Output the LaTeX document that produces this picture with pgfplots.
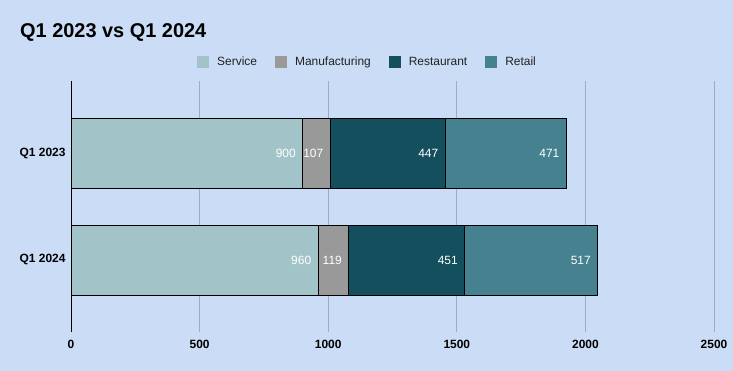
\documentclass[border=0pt]{standalone}
\usepackage{pgfplots}
\pgfplotsset{compat=1.18}
\usepackage{fontspec}
\setmainfont{Liberation Sans}
\definecolor{bgc}{RGB}{203,220,246}
\definecolor{cserv}{RGB}{162,196,201}
\definecolor{cmanu}{RGB}{153,153,153}
\definecolor{crest}{RGB}{19,79,92}
\definecolor{cret}{RGB}{69,129,142}
\definecolor{gridc}{RGB}{160,170,192}
\begin{document}
\begin{tikzpicture}
\fill[bgc] (0,0) rectangle (733bp,371bp);
\useasboundingbox (0,0) rectangle (733bp,371bp);
\node[anchor=base west,inner sep=0pt,font=\fontsize{20}{24}\selectfont\bfseries] at (20bp,333.5bp) {Q1 2023 vs Q1 2024};
\begin{axis}[
  at={(71bp,39bp)}, anchor=south west,
  scale only axis, width=643bp, height=251bp,
  xbar stacked,
  bar width=0.654,
  y dir=reverse,
  xmin=0, xmax=2500,
  ymin=-0.673, ymax=1.673,
  ytick={0,1}, yticklabels={Q1 2023,Q1 2024},
  xtick={500,1000,1500,2000,2500},
  xticklabels={500,1000,1500,2000,2500},
  extra x ticks={0}, extra x tick labels={0},
  extra tick style={grid style={black,line width=0.8bp}},
  xmajorgrids, grid style={gridc,line width=0.8bp},
  axis line style={draw=none},
  major tick length=0pt,
  /pgf/number format/assume math mode=true,
  xticklabel style={font=\fontsize{12}{14}\selectfont\bfseries, yshift=-5bp},
  yticklabel style={font=\fontsize{12}{14}\selectfont\bfseries, xshift=-2bp},
  point meta=explicit,
  visualization depends on={rawx \as \rawx},
  nodes near coords,
  nodes near coords style={anchor=east, xshift={\rawx*0.2572bp/2-3bp}, text=white, font=\fontsize{12}{14}\selectfont},
  every axis plot/.append style={draw=black, line width=0.8bp},
  legend columns=4,
  legend image code/.code={\fill[#1,draw=none] (0bp,-6bp) rectangle (12bp,6bp);},
  legend style={at={(0.196,1.0757)}, anchor=west, draw=none, fill=none,
    font=\fontsize{12}{14}\selectfont\color[RGB]{34,34,34},
    /tikz/every odd column/.append style={column sep=6bp},
    /tikz/every even column/.append style={column sep=16bp},
    inner sep=0pt},
]
\addplot[fill=cserv] coordinates {(900,0) [900] (960,1) [960]};
\addplot[fill=cmanu] coordinates {(107,0) [107] (119,1) [119]};
\addplot[fill=crest] coordinates {(447,0) [447] (451,1) [451]};
\addplot[fill=cret] coordinates {(471,0) [471] (517,1) [517]};
\legend{Service,Manufacturing,Restaurant,Retail}
\end{axis}
\end{tikzpicture}
\end{document}
